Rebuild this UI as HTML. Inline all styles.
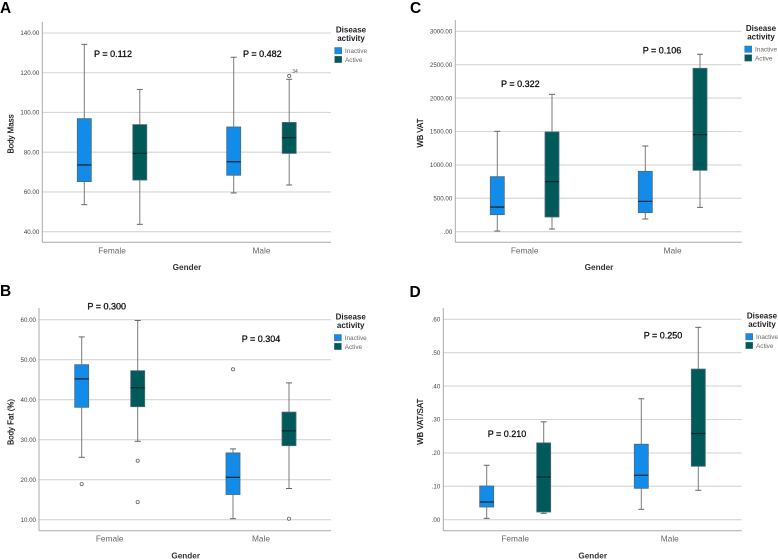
<!DOCTYPE html>
<html lang="en">
<head>
<meta charset="utf-8">
<title>Body composition by gender and disease activity</title>
<style>
html,body{margin:0;padding:0;background:#fff;width:778px;height:559px;overflow:hidden}
svg{display:block;font-family:"Liberation Sans",sans-serif;filter:blur(0.38px)}
</style>
</head>
<body>
<svg id="figure" xmlns="http://www.w3.org/2000/svg" width="778" height="559" viewBox="0 0 778 559"></svg>
<script>
// Shared categories
const categories = ["Female", "Male"];
const groups = ["Inactive", "Active"];

// Each box: [lower whisker, Q1, median, Q3, upper whisker]
const bodyMassFemaleInactive = [53.6, 65.2, 73.6, 96.9, 134.3];
const bodyMassFemaleActive = [43.7, 66, 79.4, 93.9, 111.6];
const bodyMassMaleInactive = [59.5, 68.4, 75.2, 92.7, 127.8];
const bodyMassMaleActive = [63.5, 79.4, 87.3, 95, 116.7];
const bodyMassTicks = [40, 60, 80, 100, 120, 140];
const bodyMassTickLabels = ["40.00", "60.00", "80.00", "100.00", "120.00", "140.00"];
const bodyMassOutliers = [[1, 1, 118.4, "34"]];

const bodyFatFemaleInactive = [25.6, 38.1, 45.2, 48.75, 55.7];
const bodyFatFemaleActive = [29.6, 38.25, 43, 47.25, 59.8];
const bodyFatMaleInactive = [10.25, 16.3, 20.6, 26.7, 27.7];
const bodyFatMaleActive = [17.8, 28.5, 32.2, 36.9, 44.2];
const bodyFatTicks = [10, 20, 30, 40, 50, 60];
const bodyFatTickLabels = ["10.00", "20.00", "30.00", "40.00", "50.00", "60.00"];
const bodyFatOutliers = [[0, 0, 18.9, ""], [0, 1, 24.75, ""], [0, 1, 14.4, ""], [1, 0, 47.6, ""], [1, 1, 10.25, ""]];

const vatFemaleInactive = [10, 255, 369, 824, 1503];
const vatFemaleActive = [40, 220, 749, 1493, 2057];
const vatMaleInactive = [190, 285, 454, 904, 1283];
const vatMaleActive = [364, 919, 1453, 2446, 2656];
const vatTicks = [0, 500, 1000, 1500, 2000, 2500, 3000];
const vatTickLabels = [".00", "500.00", "1000.00", "1500.00", "2000.00", "2500.00", "3000.00"];
const vatOutliers = [];

const ratioFemaleInactive = [0.004, 0.038, 0.053, 0.101, 0.163];
const ratioFemaleActive = [0.019, 0.023, 0.128, 0.23, 0.293];
const ratioMaleInactive = [0.031, 0.094, 0.133, 0.226, 0.362];
const ratioMaleActive = [0.088, 0.16, 0.258, 0.451, 0.576];
const ratioTicks = [0, 0.1, 0.2, 0.3, 0.4, 0.5, 0.6];
const ratioTickLabels = [".00", ".10", ".20", ".30", ".40", ".50", ".60"];
const ratioOutliers = [];

const COLORS = ["#138ce9", "#005a5a"];
const svg = document.getElementById("figure");
const NS = "http://www.w3.org/2000/svg";

function make(parent, tag, attrs, text) {
  const node = document.createElementNS(NS, tag);
  for (const k in attrs) node.setAttribute(k, attrs[k]);
  if (text !== undefined) node.textContent = text;
  parent.appendChild(node);
  return node;
}

function drawPanel(p) {
  const g = make(svg, "g", {});
  
  

  const yScale = v => p.y0 + (v - p.v0) * (p.y1 - p.y0) / (p.v1 - p.v0);
  const xScale = (c, s) => p.xStart + c * p.catStep + s * p.groupStep;

  const letter = make(g, "text", {x: p.letterX, y: p.letterY, "font-size": 15.5, "font-weight": 700, fill: "#000"}, p.letter);
  
  

  p.ticks.forEach((t, i) => {
    const grid = make(g, "line", {x1: p.axisX, x2: p.right, y1: yScale(t), y2: yScale(t), stroke: "#d6d6d6", "stroke-width": 1.1});
    
    
    const label = make(g, "text", {x: p.axisX - 3, y: yScale(t) + 2.2, "font-size": 6.2, fill: "#444", "text-anchor": "end"}, p.tickLabels[i]);
    
    
  });

  const axisY = make(g, "line", {x1: p.axisX, x2: p.axisX, y1: p.top, y2: p.bottom, stroke: "#aaa", "stroke-width": 1});
  
  
  const axisX = make(g, "line", {x1: p.axisX, x2: p.right, y1: p.bottom, y2: p.bottom, stroke: "#aaa", "stroke-width": 1});
  
  

  p.boxes.forEach((row, c) => {
    row.forEach((b, s) => {
      const x = xScale(c, s);
      const w = 14;
      const bg = make(g, "g", {});
      
      
      make(bg, "line", {x1: x, x2: x, y1: yScale(b[4]), y2: yScale(b[0]), stroke: "#7b7b7b", "stroke-width": 1});
      make(bg, "line", {x1: x - 3, x2: x + 3, y1: yScale(b[4]), y2: yScale(b[4]), stroke: "#666", "stroke-width": 1});
      make(bg, "line", {x1: x - 3, x2: x + 3, y1: yScale(b[0]), y2: yScale(b[0]), stroke: "#666", "stroke-width": 1});
      make(bg, "rect", {x: x - w / 2, y: yScale(b[3]), width: w, height: yScale(b[1]) - yScale(b[3]), fill: COLORS[s], stroke: "#4f6a78", "stroke-width": 0.8});
      make(bg, "line", {x1: x - w / 2, x2: x + w / 2, y1: yScale(b[2]), y2: yScale(b[2]), stroke: "#06222c", "stroke-width": 1.2});
    });
  });

  p.outliers.forEach(o => {
    const cx = xScale(o[0], o[1]);
    const cy = yScale(o[2]);
    const dot = make(g, "circle", {cx: cx, cy: cy, r: 1.6, fill: "#fff", stroke: "#666", "stroke-width": 0.8});
    
    
    if (o[3]) {
      const tag = make(g, "text", {x: cx + 3, y: cy - 3, "font-size": 5, fill: "#555"}, o[3]);
      
      
    }
  });

  categories.forEach((name, c) => {
    const label = make(g, "text", {x: xScale(c, 0.5), y: p.bottom + 11, "font-size": 8.3, fill: "#666", "text-anchor": "middle"}, name);
    
    
  });

  const xTitle = make(g, "text", {x: p.xTitleX, y: p.bottom + 27.7, "font-size": 8.2, "font-weight": 700, fill: "#333", "text-anchor": "middle"}, "Gender");
  
  

  const yTitle = make(g, "text", {x: 0, y: 0, "font-size": 7.9, fill: "#111", stroke: "#111", "stroke-width": 0.2, "text-anchor": "middle", transform: "translate(" + p.yTitleX + " " + p.yTitleY + ") rotate(-90)"}, p.yTitle);
  
  

  p.pLabels.forEach(l => {
    const t = make(g, "text", {x: l[0], y: l[1], "font-size": 9, fill: "#111", stroke: "#111", "stroke-width": 0.3, "text-anchor": "middle"}, l[2]);
    
    
  });

  const lg = make(g, "g", {});
  
  
  const t1 = make(lg, "text", {x: p.legX, y: p.legY, "font-size": 8, "font-weight": 700, fill: "#222", "text-anchor": "middle"}, "Disease");
  
  
  const t2 = make(lg, "text", {x: p.legX, y: p.legY + 8.7, "font-size": 8, "font-weight": 700, fill: "#222", "text-anchor": "middle"}, "activity");
  
  
  groups.forEach((name, s) => {
    const sy = p.legY + 15 + s * 8.7;
    const sw = make(lg, "rect", {x: p.legX - 16.3, y: sy, width: 7, height: 6.4, fill: COLORS[s], stroke: "#4f6a78", "stroke-width": 0.5});
    
    
    const lb = make(lg, "text", {x: p.legX - 6, y: sy + 5.6, "font-size": 6.4, fill: "#666"}, name);
    
    
  });
}

drawPanel({
  letter: "A", letterX: 0, letterY: 13, axisX: 42.3, right: 331, top: 22, bottom: 242.3,
  v0: 40, y0: 231.7, v1: 140, y1: 33,
  xStart: 84.3, catStep: 149.4, groupStep: 55.5,
  ticks: bodyMassTicks, tickLabels: bodyMassTickLabels, outliers: bodyMassOutliers,
  boxes: [[bodyMassFemaleInactive, bodyMassFemaleActive], [bodyMassMaleInactive, bodyMassMaleActive]],
  xTitleX: 187, yTitle: "Body Mass", yTitleX: 13.5, yTitleY: 134,
  pLabels: [[113, 57, "P = 0.112"], [262.3, 57, "P = 0.482"]],
  legX: 351, legY: 32.5
});
drawPanel({
  letter: "B", letterX: 0, letterY: 296, axisX: 39, right: 331, top: 308, bottom: 530.7,
  v0: 10, y0: 519.7, v1: 60, y1: 319.7,
  xStart: 81.7, catStep: 151.3, groupStep: 56,
  ticks: bodyFatTicks, tickLabels: bodyFatTickLabels, outliers: bodyFatOutliers,
  boxes: [[bodyFatFemaleInactive, bodyFatFemaleActive], [bodyFatMaleInactive, bodyFatMaleActive]],
  xTitleX: 185.7, yTitle: "Body Fat (%)", yTitleX: 13.5, yTitleY: 422,
  pLabels: [[106.7, 309.5, "P = 0.300"], [261, 341.8, "P = 0.304"]],
  legX: 350.7, legY: 319.5
});
drawPanel({
  letter: "C", letterX: 410, letterY: 13, axisX: 455.3, right: 741.7, top: 20, bottom: 242.3,
  v0: 0, y0: 231.7, v1: 3000, y1: 31.3,
  xStart: 497.3, catStep: 148, groupStep: 54.7,
  ticks: vatTicks, tickLabels: vatTickLabels, outliers: vatOutliers,
  boxes: [[vatFemaleInactive, vatFemaleActive], [vatMaleInactive, vatMaleActive]],
  xTitleX: 599, yTitle: "WB VAT", yTitleX: 423, yTitleY: 133,
  pLabels: [[520.3, 87, "P = 0.322"], [662, 53.5, "P = 0.106"]],
  legX: 761, legY: 31
});
drawPanel({
  letter: "D", letterX: 409.5, letterY: 297, axisX: 443.3, right: 741.7, top: 308, bottom: 530.7,
  v0: 0, y0: 519.7, v1: 0.6, y1: 319.3,
  xStart: 486.7, catStep: 154.6, groupStep: 57,
  ticks: ratioTicks, tickLabels: ratioTickLabels, outliers: ratioOutliers,
  boxes: [[ratioFemaleInactive, ratioFemaleActive], [ratioMaleInactive, ratioMaleActive]],
  xTitleX: 592.7, yTitle: "WB VAT/SAT", yTitleX: 423, yTitleY: 421.7,
  pLabels: [[507, 437, "P = 0.210"], [663, 338.5, "P = 0.250"]],
  legX: 762, legY: 318.5
});
</script>
</body>
</html>
